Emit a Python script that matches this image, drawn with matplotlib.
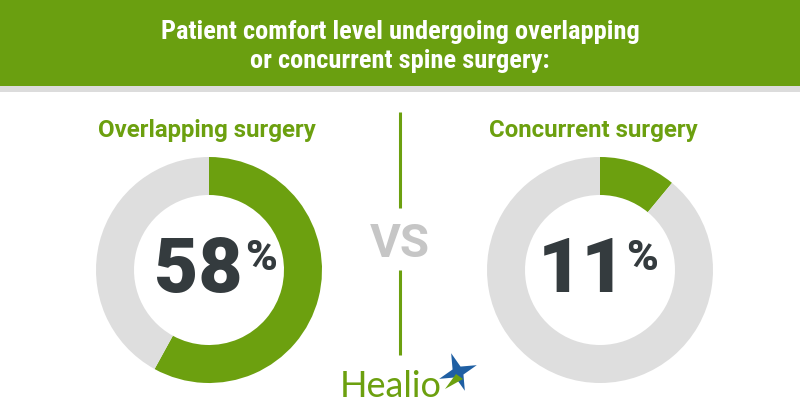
import matplotlib
matplotlib.use("Agg")
import matplotlib.pyplot as plt
import numpy as np

# data
groups = ["Overlapping surgery", "Concurrent surgery"]
comfort_pct = [58, 11]
title = "Patient comfort level undergoing overlapping\nor concurrent spine surgery:"

GREEN = "#6ca00f"
RING = "#dedede"
DARK = "#343b3e"
VS_GREY = "#c6c6c6"
H = 420  # canvas height in px, y measured from top below


def yy(y):
    return H - y


fig = plt.figure(figsize=(8, 4.2), dpi=100)
ax = fig.add_axes([0, 0, 1, 1])

centers = [(209, 270), (600, 270)]
label_x = [207, 593]
num_right = [243, 626]
pct_left = [245, 626]

for i, pct in enumerate(comfort_pct):
    cx, cy = centers[i]
    ax.pie([pct, 100 - pct], colors=[GREEN, RING], startangle=90,
           counterclock=False, center=(cx, yy(cy)), radius=113,
           wedgeprops=dict(width=38, linewidth=0))
    ax.text(label_x[i], yy(137), groups[i], ha="center", va="baseline",
            fontsize=17.3, fontweight="bold", family="Roboto", color=GREEN)
    ax.text(num_right[i], yy(292), str(pct), ha="right", va="baseline",
            fontsize=55, fontweight="black", family="Roboto", color=DARK)
    ax.text(pct_left[i], yy(238), "%", ha="left", va="top",
            fontsize=31, fontweight="black", family="Roboto", color=DARK)

# header band
ax.axhspan(yy(86), yy(0), color="#6a9f10", lw=0)
ax.axhspan(yy(92), yy(86), color="#dcdcdc", lw=0)
tfam = ["Roboto Condensed", "Liberation Sans Narrow", "DejaVu Sans"]
for line, base in zip(title.split("\n"), [39, 68]):
    ax.text(400, yy(base), line, ha="center", va="baseline", fontsize=19,
            fontweight="bold", fontstretch="condensed", family=tfam,
            color="white")

# divider + vs
ax.plot([400, 400], [yy(112), yy(208)], color=GREEN, lw=2.2, solid_capstyle="butt")
ax.plot([400, 400], [yy(270), yy(355)], color=GREEN, lw=2.2, solid_capstyle="butt")
ax.text(400, yy(257), "VS", ha="center", va="baseline", fontsize=34,
        fontweight="bold", family="Roboto", color=VS_GREY)

# Healio logo
ax.text(391, yy(397), "Healio", ha="center", va="baseline", fontsize=26,
        family="Lato", color=GREEN)
sx, sy = 458, yy(372)
ang = np.deg2rad(np.arange(0, 360, 45) + 20)
rad = np.where(np.arange(8) % 2 == 0, 20, 6)
ax.fill(sx + rad * np.cos(ang), sy + rad * np.sin(ang), color="#1f5fa3", lw=0)
ax.fill([sx - 2, sx + 5, sx - 13], [sy - 2, sy - 7, sy - 17], color=GREEN, lw=0)

ax.set_xlim(0, 800)
ax.set_ylim(0, H)
ax.set_aspect("auto")
ax.axis("off")
fig.savefig("out.png", dpi=100, facecolor="white")
